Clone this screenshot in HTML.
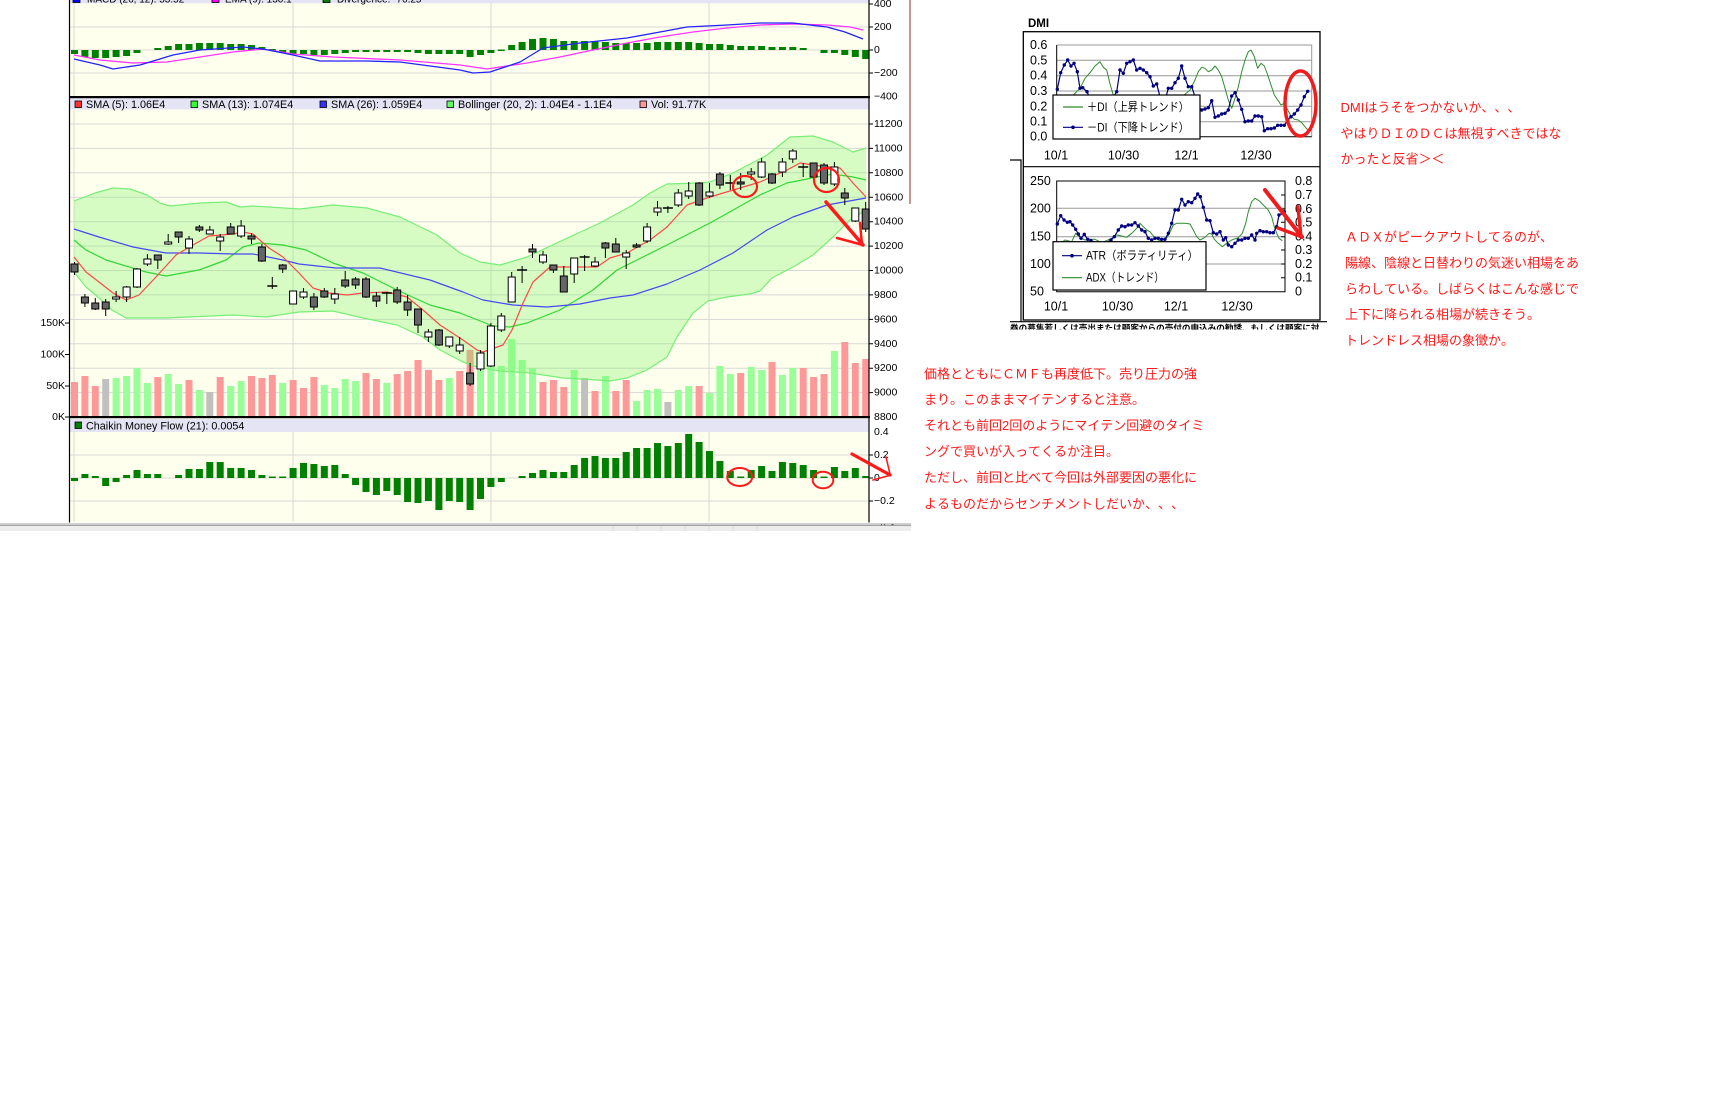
<!DOCTYPE html>
<html><head><meta charset="utf-8"><title>chart</title>
<style>html,body{margin:0;padding:0;background:#fff}svg{display:block}.jp{text-spacing-trim:space-all;font-kerning:none}</style></head>
<body>
<svg xmlns="http://www.w3.org/2000/svg" width="1718" height="1106" viewBox="0 0 1718 1106" font-family="'Liberation Sans', 'Noto Sans CJK JP', sans-serif">
<defs>
<marker id="dot" markerUnits="userSpaceOnUse" markerWidth="5" markerHeight="5" refX="2.5" refY="2.5"><circle cx="2.5" cy="2.5" r="1.7" fill="#000080"/></marker>
<clipPath id="cut"><rect x="1000" y="322" width="340" height="7.5"/></clipPath>
</defs>
<rect x="0" y="0" width="1718" height="1106" fill="#fff"/>

<!-- ===== LEFT CHART ===== -->
<rect x="70" y="0" width="799" height="522" fill="#ffffee"/>
<rect x="70" y="0" width="799" height="3.3" fill="#e4e4f4"/>
<rect x="70" y="98" width="799" height="11.5" fill="#e4e4f4"/>
<rect x="70" y="419" width="799" height="13" fill="#e4e4f4"/>

<g stroke="#d8d8d8" stroke-width="1" fill="none">
<path d="M70 27H869M70 50H869M70 73H869"/>
<path d="M70 124H869M70 148.4H869M70 172.8H869M70 197.3H869M70 221.7H869M70 246.1H869M70 270.5H869M70 294.9H869M70 319.4H869M70 343.8H869M70 368.2H869M70 392.6H869"/>
<path d="M70 455H869M70 478H869M70 501H869"/>
<path d="M74 3V97M293 3V97M491 3V97M709 3V97M74 110V417M293 110V417M491 110V417M709 110V417M74 432V522M293 432V522M491 432V522M709 432V522"/>
</g>

<!-- volume -->
<g fill="#ff9999">
<rect x="71" y="382" width="7" height="35"/><rect x="81.4" y="376" width="7" height="41"/><rect x="91.8" y="386" width="7" height="31"/><rect x="154.3" y="377" width="7" height="40"/><rect x="185.5" y="380" width="7" height="37"/><rect x="216.7" y="377" width="7" height="40"/><rect x="248" y="376" width="7" height="41"/><rect x="258.4" y="378" width="7" height="39"/><rect x="268.8" y="375" width="7" height="42"/><rect x="289.6" y="380" width="7" height="37"/><rect x="300" y="388" width="7" height="29"/><rect x="310.4" y="377" width="7" height="40"/><rect x="362.5" y="373" width="7" height="44"/><rect x="372.9" y="379" width="7" height="38"/><rect x="393.7" y="374" width="7" height="43"/><rect x="404.1" y="371" width="7" height="46"/><rect x="414.5" y="360" width="7" height="57"/><rect x="424.9" y="370" width="7" height="47"/><rect x="435.4" y="380" width="7" height="37"/><rect x="456.2" y="371" width="7" height="46"/><rect x="466.6" y="350" width="7" height="67"/><rect x="539.5" y="382" width="7" height="35"/><rect x="549.9" y="380" width="7" height="37"/><rect x="560.3" y="387" width="7" height="30"/><rect x="591.5" y="391" width="7" height="26"/><rect x="612.3" y="391" width="7" height="26"/><rect x="622.7" y="380" width="7" height="37"/><rect x="695.6" y="386" width="7" height="31"/><rect x="737.2" y="373" width="7" height="44"/><rect x="768.5" y="362" width="7" height="55"/><rect x="799.7" y="368" width="7" height="49"/><rect x="810.1" y="377" width="7" height="40"/><rect x="820.5" y="374" width="7" height="43"/><rect x="841.3" y="342" width="7" height="75"/><rect x="851.8" y="363" width="7" height="54"/><rect x="862.2" y="359" width="7" height="58"/>
</g>
<g fill="#99ff99">
<rect x="112.6" y="378" width="7" height="39"/><rect x="123.1" y="376" width="7" height="41"/><rect x="133.5" y="368" width="7" height="49"/><rect x="143.9" y="383" width="7" height="34"/><rect x="164.7" y="374" width="7" height="43"/><rect x="175.1" y="384" width="7" height="33"/><rect x="195.9" y="390" width="7" height="27"/><rect x="227.2" y="386" width="7" height="31"/><rect x="237.6" y="381" width="7" height="36"/><rect x="279.2" y="383" width="7" height="34"/><rect x="320.8" y="385" width="7" height="32"/><rect x="331.3" y="388" width="7" height="29"/><rect x="341.7" y="379" width="7" height="38"/><rect x="352.1" y="381" width="7" height="36"/><rect x="383.3" y="383" width="7" height="34"/><rect x="445.8" y="378" width="7" height="39"/><rect x="477" y="370" width="7" height="47"/><rect x="487.4" y="367" width="7" height="50"/><rect x="497.8" y="366" width="7" height="51"/><rect x="508.2" y="339" width="7" height="78"/><rect x="518.6" y="360" width="7" height="57"/><rect x="529" y="368" width="7" height="49"/><rect x="570.7" y="370" width="7" height="47"/><rect x="601.9" y="376" width="7" height="41"/><rect x="633.1" y="401" width="7" height="16"/><rect x="643.6" y="390" width="7" height="27"/><rect x="654" y="389" width="7" height="28"/><rect x="674.8" y="390" width="7" height="27"/><rect x="685.2" y="386" width="7" height="31"/><rect x="706" y="393" width="7" height="24"/><rect x="716.4" y="366" width="7" height="51"/><rect x="726.8" y="374" width="7" height="43"/><rect x="747.7" y="367" width="7" height="50"/><rect x="758.1" y="370" width="7" height="47"/><rect x="778.9" y="375" width="7" height="42"/><rect x="789.3" y="368" width="7" height="49"/><rect x="830.9" y="351" width="7" height="66"/>
</g>
<g fill="#c0c0c0">
<rect x="102.2" y="379" width="7" height="38"/><rect x="206.3" y="392" width="7" height="25"/><rect x="581.1" y="378" width="7" height="39"/><rect x="664.4" y="402" width="7" height="15"/>
</g>

<!-- bollinger fill -->
<polygon fill="rgb(120,245,100)" fill-opacity="0.3" points="74,201 95,193 113,188 130,189 147,195 160,203 170,206 200,203 226,202 240,207 253,206 300,209 333,205 367,208 400,217 437,235 460,253 480,262 500,265 527,257 563,240 600,223 633,205 650,193 667,184 700,183 710,182 733,173 767,155 790,137 813,136 833,142 853,152 866,148 866,210 850,220 833,237 813,255 793,267 772,278 760,291 750,294 727,297 708,301 693,313 677,337 667,357 647,370 627,378 610,381 597,380 563,378 530,373 500,371 477,367 463,362 440,350 423,337 397,325 363,318 333,311 299,312 266,317 233,315 166,318 126,318 112,310 99,298 86,287 74,272"/>
<g fill="none" stroke-width="1.2" stroke-linejoin="round">
<polyline stroke="#77ee77" points="74,201 95,193 113,188 130,189 147,195 160,203 170,206 200,203 226,202 240,207 253,206 300,209 333,205 367,208 400,217 437,235 460,253 480,262 500,265 527,257 563,240 600,223 633,205 650,193 667,184 700,183 710,182 733,173 767,155 790,137 813,136 833,142 853,152 866,148"/>
<polyline stroke="#77ee77" points="74,272 86,287 99,298 112,310 126,318 166,318 233,315 266,317 299,312 333,311 363,318 397,325 423,337 440,350 463,362 477,367 500,371 530,373 563,378 597,380 610,381 627,378 647,370 667,357 677,337 693,313 708,301 727,297 750,294 760,291 772,278 793,267 813,255 833,237 850,220 866,210"/>
<polyline stroke="#33d633" points="74,240 86,250 106,260 146,272 166,276 199,270 226,260 243,247 259,243 283,245 306,250 333,263 363,273 397,290 430,305 460,313 493,326 510,327 527,323 560,310 593,290 617,270 633,262 667,245 710,223 760,195 787,183 817,177 833,174 853,177 866,180"/>
<polyline stroke="#4848f0" points="74,229 99,237 133,247 166,253 199,253 233,254 253,254 283,260 299,264 336,268 380,268 430,280 463,292 483,300 513,305 547,307 580,304 610,298 633,295 667,284 700,270 733,253 767,230 793,217 827,205 866,198"/>
<polyline stroke="#ff4848" points="74,257 86,272 99,282 113,293 126,300 139,295 156,277 176,255 193,245 209,236 233,234 243,232 253,234 269,248 283,257 299,273 313,288 329,293 347,295 363,293 387,292 407,297 423,310 440,325 463,340 477,350 483,352 503,345 512,330 523,303 533,282 550,267 563,267 597,267 610,258 627,253 650,240 667,227 687,205 710,197 740,188 760,182 787,170 800,163 820,166 840,168 853,183 866,197"/>
</g>

<!-- candles -->
<path fill="none" stroke="#000" stroke-width="1" d="M74.5 262V275M84.9 294V307M95.3 298V310M105.7 299V316M116.1 291V302M126.6 286V302M137 268V288M147.4 254V266M157.8 255V269M168.2 234V245M178.6 232V243M189 236V254M199.4 225V232M209.8 226V234M220.2 234V251M230.7 223V234M241.1 220V238M251.5 233V244M261.9 244V262M272.3 277V289M282.7 264V273M293.1 291V304M303.5 288V299M313.9 293V310M324.3 288V298M334.8 288V304M345.2 271V288M355.6 277V289M366 277V298M376.4 292V307M386.8 292V304M397.2 287V304M407.6 295V316M418 309V333M428.4 329V342M438.9 329V346M449.3 337V348M459.7 337V354M470.1 363V386M480.5 350V371M490.9 323V367M501.3 313V332M511.7 272V302M522.1 266V283M532.5 244V258M543 251V264M553.4 265V273M563.8 266V292M574.2 258V283M584.6 255V271M595 257V267M605.4 242V258M615.8 238V252M626.2 250V269M636.6 243V248M647.1 223V243M657.5 201V216M667.9 206V213M678.3 189V207M688.7 182V199M699.1 182V206M709.5 183V198M719.9 172V189M730.3 175V190M740.7 173V190M751.2 168V180M761.6 158V178M772 173V184M782.4 158V177M792.8 149V163M803.2 163V177M813.6 163V179M824 163V185M834.4 162V186M844.8 188V205M855.3 208V222M865.7 202V232"/>
<path fill="none" stroke="#000" stroke-width="1.5" d="M267.3 286H277.3M381.8 293H391.8M517.1 270H527.1M579.6 257H589.6M662.9 208H672.9M725.3 183H735.3M798.2 167H808.2"/>
<g fill="#666" stroke="#000" stroke-width="1">
<rect x="71" y="264" width="7" height="8"/><rect x="81.4" y="297" width="7" height="6"/><rect x="91.8" y="303" width="7" height="6"/><rect x="102.2" y="302" width="7" height="7"/><rect x="154.3" y="255" width="7" height="5"/><rect x="175.1" y="232" width="7" height="5"/><rect x="195.9" y="227" width="7" height="3"/><rect x="227.2" y="227" width="7" height="7"/><rect x="248" y="236" width="7" height="3"/><rect x="258.4" y="247" width="7" height="14"/><rect x="279.2" y="265" width="7" height="4"/><rect x="310.4" y="297" width="7" height="10"/><rect x="320.8" y="291" width="7" height="6"/><rect x="341.7" y="280" width="7" height="6"/><rect x="352.1" y="279" width="7" height="6"/><rect x="362.5" y="279" width="7" height="18"/><rect x="372.9" y="296" width="7" height="5"/><rect x="393.7" y="290" width="7" height="12"/><rect x="404.1" y="302" width="7" height="8"/><rect x="414.5" y="309" width="7" height="16"/><rect x="435.4" y="330" width="7" height="15"/><rect x="466.6" y="373" width="7" height="11"/><rect x="529" y="249" width="7" height="3"/><rect x="549.9" y="265" width="7" height="5"/><rect x="560.3" y="276" width="7" height="16"/><rect x="601.9" y="243" width="7" height="5"/><rect x="612.3" y="244" width="7" height="8"/><rect x="633.1" y="245" width="7" height="2"/><rect x="695.6" y="183" width="7" height="22"/><rect x="716.4" y="174" width="7" height="11"/><rect x="737.2" y="182" width="7" height="2"/><rect x="768.5" y="174" width="7" height="9"/><rect x="810.1" y="163" width="7" height="14"/><rect x="820.5" y="165" width="7" height="18"/><rect x="841.3" y="193" width="7" height="5"/><rect x="862.2" y="209" width="7" height="20"/>
</g>
<g fill="#fff" stroke="#000" stroke-width="1">
<rect x="112.6" y="297" width="7" height="2"/><rect x="123.1" y="287" width="7" height="10"/><rect x="133.5" y="269" width="7" height="18"/><rect x="143.9" y="259" width="7" height="5"/><rect x="164.7" y="242" width="7" height="2"/><rect x="185.5" y="239" width="7" height="9"/><rect x="206.3" y="230" width="7" height="4"/><rect x="216.7" y="237" width="7" height="4"/><rect x="237.6" y="226" width="7" height="10"/><rect x="289.6" y="291" width="7" height="13"/><rect x="300" y="292" width="7" height="5"/><rect x="331.3" y="294" width="7" height="5"/><rect x="424.9" y="332" width="7" height="5"/><rect x="445.8" y="337" width="7" height="9"/><rect x="456.2" y="345" width="7" height="6"/><rect x="477" y="353" width="7" height="16"/><rect x="487.4" y="326" width="7" height="40"/><rect x="497.8" y="316" width="7" height="14"/><rect x="508.2" y="277" width="7" height="25"/><rect x="539.5" y="255" width="7" height="7"/><rect x="570.7" y="258" width="7" height="16"/><rect x="591.5" y="262" width="7" height="4"/><rect x="622.7" y="253" width="7" height="4"/><rect x="643.6" y="227" width="7" height="14"/><rect x="654" y="208" width="7" height="4"/><rect x="674.8" y="193" width="7" height="12"/><rect x="685.2" y="191" width="7" height="5"/><rect x="706" y="192" width="7" height="4"/><rect x="747.7" y="172" width="7" height="2"/><rect x="758.1" y="162" width="7" height="15"/><rect x="778.9" y="162" width="7" height="10"/><rect x="789.3" y="151" width="7" height="8"/><rect x="830.9" y="167" width="7" height="17"/><rect x="851.8" y="208" width="7" height="13"/>
</g>

<!-- MACD histogram -->
<g fill="#008000">
<rect x="71" y="50" width="7" height="4"/><rect x="81.4" y="50" width="7" height="7"/><rect x="91.8" y="50" width="7" height="8"/><rect x="102.2" y="50" width="7" height="8"/><rect x="112.6" y="50" width="7" height="7"/><rect x="123.1" y="50" width="7" height="6"/><rect x="133.5" y="50" width="7" height="3"/><rect x="154.3" y="48" width="7" height="2"/><rect x="164.7" y="46" width="7" height="4"/><rect x="175.1" y="44" width="7" height="6"/><rect x="185.5" y="44" width="7" height="6"/><rect x="195.9" y="43" width="7" height="7"/><rect x="206.3" y="43" width="7" height="7"/><rect x="216.7" y="43" width="7" height="7"/><rect x="227.2" y="44" width="7" height="6"/><rect x="237.6" y="44" width="7" height="6"/><rect x="248" y="45" width="7" height="5"/><rect x="258.4" y="47" width="7" height="3"/><rect x="268.8" y="49" width="7" height="1.5"/><rect x="279.2" y="50" width="7" height="3"/><rect x="289.6" y="50" width="7" height="4"/><rect x="300" y="50" width="7" height="4"/><rect x="310.4" y="50" width="7" height="5"/><rect x="320.8" y="50" width="7" height="5"/><rect x="331.3" y="50" width="7" height="4"/><rect x="341.7" y="50" width="7" height="3"/><rect x="352.1" y="50" width="7" height="2"/><rect x="362.5" y="50" width="7" height="2"/><rect x="372.9" y="50" width="7" height="2"/><rect x="383.3" y="50" width="7" height="2"/><rect x="393.7" y="50" width="7" height="2"/><rect x="404.1" y="50" width="7" height="2"/><rect x="414.5" y="50" width="7" height="3"/><rect x="424.9" y="50" width="7" height="4"/><rect x="435.4" y="50" width="7" height="4"/><rect x="445.8" y="50" width="7" height="4"/><rect x="456.2" y="50" width="7" height="4"/><rect x="466.6" y="50" width="7" height="7"/><rect x="477" y="50" width="7" height="5"/><rect x="487.4" y="50" width="7" height="3"/><rect x="497.8" y="49.5" width="7" height="1.5"/><rect x="508.2" y="45" width="7" height="5"/><rect x="518.6" y="42" width="7" height="8"/><rect x="529" y="39" width="7" height="11"/><rect x="539.5" y="38" width="7" height="12"/><rect x="549.9" y="39" width="7" height="11"/><rect x="560.3" y="41" width="7" height="9"/><rect x="570.7" y="41" width="7" height="9"/><rect x="581.1" y="41" width="7" height="9"/><rect x="591.5" y="41" width="7" height="9"/><rect x="601.9" y="42" width="7" height="8"/><rect x="612.3" y="43" width="7" height="7"/><rect x="622.7" y="43" width="7" height="7"/><rect x="633.1" y="43" width="7" height="7"/><rect x="643.6" y="43" width="7" height="7"/><rect x="654" y="42" width="7" height="8"/><rect x="664.4" y="42" width="7" height="8"/><rect x="674.8" y="42" width="7" height="8"/><rect x="685.2" y="42" width="7" height="8"/><rect x="695.6" y="43" width="7" height="7"/><rect x="706" y="44" width="7" height="6"/><rect x="716.4" y="44" width="7" height="6"/><rect x="726.8" y="45" width="7" height="5"/><rect x="737.2" y="46" width="7" height="4"/><rect x="747.7" y="46" width="7" height="4"/><rect x="758.1" y="46" width="7" height="4"/><rect x="768.5" y="47" width="7" height="3"/><rect x="778.9" y="47" width="7" height="3"/><rect x="789.3" y="47" width="7" height="3"/><rect x="799.7" y="48" width="7" height="2"/><rect x="820.5" y="50" width="7" height="3"/><rect x="830.9" y="50" width="7" height="3"/><rect x="841.3" y="50" width="7" height="5"/><rect x="851.8" y="50" width="7" height="7"/><rect x="862.2" y="50" width="7" height="9"/>
</g>
<g fill="none" stroke-width="1.3" stroke-linejoin="round">
<polyline stroke="#ff33ff" points="74,55 100,60 133,63 167,62 200,57 233,52 263,49 293,54 333,57 400,60 460,65 487,69 527,63 560,57 593,50 627,43 660,37 693,32 727,28 760,25 793,24 827,25 850,27 863,30"/>
<polyline stroke="#2222ff" points="74,59 100,65 113,69 140,65 173,55 200,50 243,47 263,49 293,55 320,61 367,61 400,62 460,70 473,73 490,72 520,62 543,48 580,43 627,38 660,32 687,27 727,25 760,23 793,23 827,27 845,32 863,39"/>
</g>

<!-- CMF -->
<g fill="#008000">
<rect x="71" y="478" width="7" height="3"/><rect x="81.4" y="474" width="7" height="4"/><rect x="91.8" y="476" width="7" height="2"/><rect x="102.2" y="478" width="7" height="8"/><rect x="112.6" y="478" width="7" height="4"/><rect x="123.1" y="475" width="7" height="3"/><rect x="133.5" y="470" width="7" height="8"/><rect x="143.9" y="474" width="7" height="4"/><rect x="154.3" y="474" width="7" height="4"/><rect x="175.1" y="475" width="7" height="3"/><rect x="185.5" y="469" width="7" height="9"/><rect x="195.9" y="469" width="7" height="9"/><rect x="206.3" y="462" width="7" height="16"/><rect x="216.7" y="462" width="7" height="16"/><rect x="227.2" y="468" width="7" height="10"/><rect x="237.6" y="468" width="7" height="10"/><rect x="248" y="470" width="7" height="8"/><rect x="258.4" y="475" width="7" height="3"/><rect x="268.8" y="476.5" width="7" height="1.5"/><rect x="279.2" y="476.5" width="7" height="1.5"/><rect x="289.6" y="468" width="7" height="10"/><rect x="300" y="463" width="7" height="15"/><rect x="310.4" y="464" width="7" height="14"/><rect x="320.8" y="466" width="7" height="12"/><rect x="331.3" y="465" width="7" height="13"/><rect x="341.7" y="474" width="7" height="4"/><rect x="352.1" y="478" width="7" height="7"/><rect x="362.5" y="478" width="7" height="14"/><rect x="372.9" y="478" width="7" height="17"/><rect x="383.3" y="478" width="7" height="13"/><rect x="393.7" y="478" width="7" height="17"/><rect x="404.1" y="478" width="7" height="24"/><rect x="414.5" y="478" width="7" height="25"/><rect x="424.9" y="478" width="7" height="23"/><rect x="435.4" y="478" width="7" height="32"/><rect x="445.8" y="478" width="7" height="23"/><rect x="456.2" y="478" width="7" height="24"/><rect x="466.6" y="478" width="7" height="32"/><rect x="477" y="478" width="7" height="21"/><rect x="487.4" y="478" width="7" height="9"/><rect x="497.8" y="478" width="7" height="4"/><rect x="518.6" y="476" width="7" height="2"/><rect x="529" y="473" width="7" height="5"/><rect x="539.5" y="470" width="7" height="8"/><rect x="549.9" y="472" width="7" height="6"/><rect x="560.3" y="472" width="7" height="6"/><rect x="570.7" y="465" width="7" height="13"/><rect x="581.1" y="458" width="7" height="20"/><rect x="591.5" y="456" width="7" height="22"/><rect x="601.9" y="458" width="7" height="20"/><rect x="612.3" y="458" width="7" height="20"/><rect x="622.7" y="452" width="7" height="26"/><rect x="633.1" y="448" width="7" height="30"/><rect x="643.6" y="448" width="7" height="30"/><rect x="654" y="443" width="7" height="35"/><rect x="664.4" y="446" width="7" height="32"/><rect x="674.8" y="443" width="7" height="35"/><rect x="685.2" y="434" width="7" height="44"/><rect x="695.6" y="442" width="7" height="36"/><rect x="706" y="451" width="7" height="27"/><rect x="716.4" y="461" width="7" height="17"/><rect x="726.8" y="471" width="7" height="7"/><rect x="737.2" y="476.5" width="7" height="1.5"/><rect x="747.7" y="470" width="7" height="8"/><rect x="758.1" y="466" width="7" height="12"/><rect x="768.5" y="471" width="7" height="7"/><rect x="778.9" y="462" width="7" height="16"/><rect x="789.3" y="463" width="7" height="15"/><rect x="799.7" y="465" width="7" height="13"/><rect x="810.1" y="470" width="7" height="8"/><rect x="820.5" y="476.5" width="7" height="1.5"/><rect x="830.9" y="467" width="7" height="11"/><rect x="841.3" y="471" width="7" height="7"/><rect x="851.8" y="468" width="7" height="10"/><rect x="862.2" y="476" width="7" height="2"/>
</g>

<!-- axes / separators -->
<rect x="69" y="96" width="801" height="2.2" fill="#000"/>
<rect x="69" y="416" width="801" height="2.2" fill="#000"/>
<path d="M69.5 0V522.5M869 0V522.5" stroke="#000" stroke-width="1.2" fill="none"/>
<path stroke="#000" stroke-width="1" fill="none" d="M869 4H873M869 27H873M869 50H873M869 73H873M869 124H873M869 148.4H873M869 172.8H873M869 197.3H873M869 221.7H873M869 246.1H873M869 270.5H873M869 294.9H873M869 319.4H873M869 343.8H873M869 368.2H873M869 392.6H873M869 455H873M869 478H873M869 501H873M65 323H70M65 354.5H70M65 386H70M65 417H70"/>

<!-- legends -->
<g font-size="10" fill="#000" stroke="none">
<rect x="73" y="-4" width="7" height="6.5" fill="#0000ff" stroke="#000" stroke-width="0.8"/>
<text x="87" y="2.7">MACD (26, 12): 53.52</text>
<rect x="212" y="-4" width="7" height="6.5" fill="#ff00ff" stroke="#000" stroke-width="0.8"/>
<text x="225" y="2.7">EMA (9): 130.1</text>
<rect x="323" y="-4" width="7" height="6.5" fill="#008000" stroke="#000" stroke-width="0.8"/>
<text x="337" y="2.7">Divergence: -76.25</text>
</g>
<g font-size="10.8" fill="#000" stroke="none">
<rect x="75" y="101" width="6.5" height="6.5" fill="#ff3333" stroke="#000" stroke-width="0.8"/>
<text x="86" y="108">SMA (5): 1.06E4</text>
<rect x="191" y="101" width="6.5" height="6.5" fill="#33ff33" stroke="#000" stroke-width="0.8"/>
<text x="202" y="108">SMA (13): 1.074E4</text>
<rect x="320" y="101" width="6.5" height="6.5" fill="#3333ff" stroke="#000" stroke-width="0.8"/>
<text x="331" y="108">SMA (26): 1.059E4</text>
<rect x="447" y="101" width="6.5" height="6.5" fill="#66ff66" stroke="#000" stroke-width="0.8"/>
<text x="458" y="108">Bollinger (20, 2): 1.04E4 - 1.1E4</text>
<rect x="640" y="101" width="6.5" height="6.5" fill="#ff9999" stroke="#000" stroke-width="0.8"/>
<text x="651" y="108">Vol: 91.77K</text>

<rect x="75" y="422" width="6.5" height="6.5" fill="#008000" stroke="#000" stroke-width="0.8"/>
<text x="86" y="429.5">Chaikin Money Flow (21): 0.0054</text>
</g>

<!-- axis labels -->
<g font-size="10.5" fill="#000" dominant-baseline="central">
<text x="874" y="4">400</text><text x="874" y="27">200</text><text x="874" y="50">0</text><text x="874" y="73">−200</text><text x="874" y="96.5">−400</text>
<text x="874" y="124">11200</text><text x="874" y="148.4">11000</text><text x="874" y="172.8">10800</text><text x="874" y="197.3">10600</text><text x="874" y="221.7">10400</text><text x="874" y="246.1">10200</text><text x="874" y="270.5">10000</text><text x="874" y="294.9">9800</text><text x="874" y="319.4">9600</text><text x="874" y="343.8">9400</text><text x="874" y="368.2">9200</text><text x="874" y="392.6">9000</text><text x="874" y="417">8800</text>
<text x="874" y="432">0.4</text><text x="874" y="455">0.2</text><text x="874" y="478">0</text><text x="874" y="501">−0.2</text><text x="874" y="527">−0.4</text>
<text x="65" y="323" text-anchor="end">150K</text><text x="65" y="354.5" text-anchor="end">100K</text><text x="65" y="386" text-anchor="end">50K</text><text x="65" y="417" text-anchor="end">0K</text>
</g>

<!-- bottom strip -->
<rect x="0" y="523" width="911" height="1" fill="#d0d0d0"/>
<rect x="0" y="524.5" width="911" height="1.4" fill="#999"/>
<rect x="0" y="526" width="911" height="5" fill="#ededed"/>
<rect x="870" y="531" width="60" height="10" fill="#fff"/>
<path stroke="#dcdcdc" stroke-width="1" d="M613 526V531M637 526V531M661 526V531M685 526V531M709 526V531M733 526V531M757 526V531"/>
<path d="M910 0V204" stroke="#a05050" stroke-width="1.2"/>

<!-- red annotations left chart -->
<g fill="none" stroke="#ff1a1a" stroke-linecap="round">
<ellipse cx="745" cy="186.5" rx="12" ry="10.5" stroke-width="2.2"/>
<ellipse cx="826.5" cy="180" rx="12.5" ry="12" stroke-width="2.2"/>
<path d="M826 202L863 245" stroke-width="3.5"/>
<path d="M837 238L863 245M860 223L862 245" stroke-width="2.5"/>
<ellipse cx="739.7" cy="477" rx="12.5" ry="9" stroke-width="2"/>
<ellipse cx="823" cy="480" rx="10.3" ry="8.3" stroke-width="2"/>
<path d="M852 454L890 475" stroke-width="3.2"/>
<path d="M873 480L891 475M886 457L890 474" stroke-width="1.6"/>
</g>

<!-- ===== DMI IMAGE ===== -->
<text x="1028" y="24" font-size="11.5" font-weight="bold" dominant-baseline="central" fill="#000">DMI</text>
<rect x="1023.3" y="31.7" width="296.7" height="288.3" fill="#fff" stroke="#000" stroke-width="1.3"/>
<path d="M1023.3 166.7H1320M1010 160H1021V321.7M1010 321.7H1327" stroke="#000" stroke-width="1.2" fill="none"/>
<text x="1010" y="327.8" font-size="8.6" font-weight="bold" dominant-baseline="central" clip-path="url(#cut)" fill="#000" font-family="'Liberation Sans','Noto Sans CJK JP',sans-serif">券の募集若しくは売出または顧客からの売付の申込みの勧誘、もしくは顧客に対</text>

<g stroke="#999" stroke-width="1" fill="none">
<path d="M1056.7 45H1311.7V136.7M1056.7 60.3H1311.7M1056.7 75.7H1311.7M1056.7 91H1311.7M1056.7 106.3H1311.7M1056.7 121.7H1311.7"/>
<path d="M1056.7 208.3H1285M1056.7 236.7H1285M1056.7 264H1285"/>
</g>
<path d="M1056.7 45V136.7H1311.7M1056.7 181H1285V291.7H1056.7Z" stroke="#000" stroke-width="1" fill="none"/>
<path d="M1281 181H1285M1281 195H1285M1281 209H1285M1281 222.3H1285M1281 236.7H1285M1281 250H1285M1281 264H1285M1281 277.7H1285" stroke="#000" stroke-width="1"/>

<g font-size="12.5" fill="#000" dominant-baseline="central">
<text x="1030" y="45">0.6</text><text x="1030" y="60.3">0.5</text><text x="1030" y="75.7">0.4</text><text x="1030" y="91">0.3</text><text x="1030" y="106.3">0.2</text><text x="1030" y="121.7">0.1</text><text x="1030" y="136.7">0.0</text>
<text x="1056" y="155.7" text-anchor="middle">10/1</text><text x="1123.5" y="155.7" text-anchor="middle">10/30</text><text x="1186.5" y="155.7" text-anchor="middle">12/1</text><text x="1256" y="155.7" text-anchor="middle">12/30</text>
<text x="1030" y="181">250</text><text x="1030" y="208.3">200</text><text x="1030" y="236.7">150</text><text x="1030" y="264">100</text><text x="1030" y="291.7">50</text>
<text x="1295" y="181">0.8</text><text x="1295" y="195">0.7</text><text x="1295" y="209">0.6</text><text x="1295" y="222.3">0.5</text><text x="1295" y="236.7">0.4</text><text x="1295" y="250">0.3</text><text x="1295" y="264">0.2</text><text x="1295" y="277.7">0.1</text><text x="1295" y="291.7">0</text>
<text x="1056" y="306.7" text-anchor="middle">10/1</text><text x="1117.5" y="306.7" text-anchor="middle">10/30</text><text x="1176" y="306.7" text-anchor="middle">12/1</text><text x="1237" y="306.7" text-anchor="middle">12/30</text>
</g>

<g fill="none" stroke-linejoin="round">
<polyline stroke="#2e8b2e" stroke-width="1" points="1057.3,97.3 1071.7,96.7 1080,88.3 1085,78.3 1090,72.7 1095,66 1100,61.7 1103.3,67.3 1106.7,70 1110,84 1113.3,95 1125,106.7 1145,105 1161.7,101.7 1178.3,100 1190,90 1195,80 1198.3,71.7 1201.7,67.3 1205,68.3 1208.3,71.7 1211.7,70 1215,66 1218.3,70 1221.7,76.7 1225,88.3 1228.3,100 1231.7,108.3 1235,98.3 1238.3,86.7 1241.7,71.7 1245,60 1248.3,51.7 1251,50 1254.3,56.7 1257.7,68.3 1261,63.3 1264.3,66 1267.7,75 1271,85 1274.3,95 1277.7,100 1281,105 1284.3,103.3 1287.7,110 1291,116 1294.3,119.3 1298.3,120 1301.7,122.7 1305,126.7 1307.7,130"/>
<polyline stroke="#000080" stroke-width="1.2" marker-start="url(#dot)" marker-mid="url(#dot)" marker-end="url(#dot)" points="1057.3,89.3 1060.7,72.7 1064.3,65 1067.7,60 1071,66 1074,63.3 1077.3,71.7 1080,88.3 1082.7,87.7 1087,91.7 1095,110 1105,110 1116.7,91.7 1120,70 1123.3,73.3 1126.7,63.3 1130,61.7 1133.3,60 1136.7,70 1140,68.3 1143.3,70 1146.7,72.7 1150,76.7 1153.3,86 1156.7,84 1160,96.7 1164.3,103.3 1168.3,88.3 1171.7,88.3 1175,82.7 1178.3,78.3 1181.7,66 1185,78.3 1188.3,86.7 1191.7,86.7 1195,96.7 1198.3,106.7 1201.7,110 1205,109 1208.3,107.7 1211.7,100.7 1215,117.3 1218.3,116 1221.7,114 1225,113.3 1228.3,110 1231.7,96 1235,92.7 1238.3,100 1241.7,109.3 1245,121.7 1248.3,121 1251.7,121 1255,116 1258.3,116 1261.7,116.7 1264.3,130.7 1267.7,128.7 1271,128.7 1274.3,128 1277.7,125.3 1281,125.3 1284.3,125.3 1287.7,120 1291,116.7 1294.3,114 1297.7,110 1301,105 1304.3,96.7 1307.7,91.3"/>
<polyline stroke="#2e8b2e" stroke-width="1" points="1058,245 1065,240 1071.7,241.7 1075.7,233.3 1080,237.3 1085,240 1090,239.3 1095,239.3 1101.7,242.7 1111.7,238.3 1116.7,235 1121.7,236 1126.7,237.3 1131.7,233.3 1136.7,228.3 1140,223.3 1143.3,226.7 1146.7,230 1150,231.7 1153.3,236 1158.3,240 1163.3,241.7 1167.7,236.7 1171,230 1173.3,225 1176.7,223.3 1185,223.3 1190,224 1193.3,230 1196.7,236.7 1200,240 1205,237.3 1209,233.3 1211.7,234 1214.3,239.3 1218.3,243.3 1222.3,246.7 1226.7,243.3 1231.7,240 1238.3,237.7 1242.3,233.3 1245.7,223.3 1248.3,211.7 1251.7,201.7 1255,198.3 1259,200.7 1263.3,205 1267.7,209.3 1271.7,216.7 1274.3,226.7 1276.7,233.3 1279,238.3 1282.3,240.7"/>
<polyline stroke="#000080" stroke-width="1.2" marker-start="url(#dot)" marker-mid="url(#dot)" marker-end="url(#dot)" points="1057.3,224 1060.7,215.7 1064,220 1067.3,222.3 1070,221.7 1072.7,225 1075.7,229.3 1078.3,234 1081,238.3 1084.3,234.3 1087.7,239.3 1091,240.7 1098.3,243.3 1105,243.3 1111,240 1114.3,236.7 1118.3,230 1121.7,226 1125,226.7 1128.3,225 1131.7,225 1135,222.7 1138.3,226 1141.7,230 1145,231.7 1148.3,238.3 1151.7,240 1155,238.3 1158.3,238.3 1161.7,239.3 1165,239.3 1168.3,233.3 1171.7,223.3 1175,210 1178.3,210 1181.7,199.3 1185,205 1188.3,201.7 1191.7,202.7 1195,198.3 1197.7,194 1200.3,196.7 1203.3,207.3 1206.7,220 1210,220.7 1213.3,232.7 1216.7,234 1220,231.7 1223.3,240 1225.7,237.7 1228.3,245 1231.7,246.7 1235,243.3 1238.3,240 1241.7,240 1245,238.3 1248.3,238.3 1251.7,235 1255,240 1256.7,233.3 1260,230.7 1263.3,231.7 1266.7,231.7 1270,232.7 1273.3,232.7 1276.7,226.7 1279,215 1282.3,213.3 1284.3,211.7"/>
</g>

<!-- DMI legends -->
<rect x="1053" y="95" width="147" height="44" fill="#fff" stroke="#000" stroke-width="1.2"/>
<rect x="1053" y="241.7" width="153" height="48.3" fill="#fff" stroke="#000" stroke-width="1.2"/>
<path d="M1063 107H1083M1062 277.7H1082" stroke="#2e8b2e" stroke-width="1.2"/>
<path d="M1063 127.3H1083M1062 255.7H1082" stroke="#000080" stroke-width="1.2"/>
<circle cx="1073" cy="127.3" r="1.8" fill="#000080"/><circle cx="1072" cy="255.7" r="1.8" fill="#000080"/>
<g font-size="12" fill="#000" dominant-baseline="central">
<text x="1087" y="107" textLength="102" lengthAdjust="spacingAndGlyphs">＋DI（上昇トレンド）</text>
<text x="1087" y="127.3" textLength="102" lengthAdjust="spacingAndGlyphs">－DI（下降トレンド）</text>
<text x="1086" y="255.7" textLength="112" lengthAdjust="spacingAndGlyphs">ATR（ボラティリティ）</text>
<text x="1086" y="277.7" textLength="78" lengthAdjust="spacingAndGlyphs">ADX（トレンド）</text>
</g>

<!-- red marks on DMI -->
<g fill="none" stroke="#ee1c1c" stroke-linecap="round">
<ellipse cx="1300.5" cy="103.5" rx="15.5" ry="32.5" stroke-width="3.5"/>
<path d="M1265 190L1302 237" stroke-width="4"/>
<path d="M1278 228L1302 237M1298 207L1301 237" stroke-width="3.5"/>
</g>

<!-- ===== ANNOTATION TEXT ===== -->
<g class="jp" font-size="13" fill="#ff1a1a" dominant-baseline="central" font-family="'Liberation Sans','Noto Sans CJK JP',sans-serif">
<text x="1340.5" y="107.5">DMIはうそをつかないか、、、</text>
<text x="1340.5" y="133.5">やはりＤＩのＤＣは無視すべきではな</text>
<text x="1340.5" y="159">かったと反省＞＜</text>

<text x="1345" y="237">ＡＤＸがピークアウトしてるのが、</text>
<text x="1345" y="263">陽線、陰線と日替わりの気迷い相場をあ</text>
<text x="1345" y="289">らわしている。しばらくはこんな感じで</text>
<text x="1345" y="314.6">上下に降られる相場が続きそう。</text>
<text x="1345" y="340.5">トレンドレス相場の象徴か。</text>

<text x="924" y="374">価格とともにＣＭＦも再度低下。売り圧力の強</text>
<text x="924" y="399.7">まり。このままマイテンすると注意。</text>
<text x="924" y="425.7">それとも前回2回のようにマイテン回避のタイミ</text>
<text x="924" y="451.5">ングで買いが入ってくるか注目。</text>
<text x="924" y="477.3">ただし、前回と比べて今回は外部要因の悪化に</text>
<text x="924" y="503.8">よるものだからセンチメントしだいか、、、</text>
</g>
</svg>
</body></html>
